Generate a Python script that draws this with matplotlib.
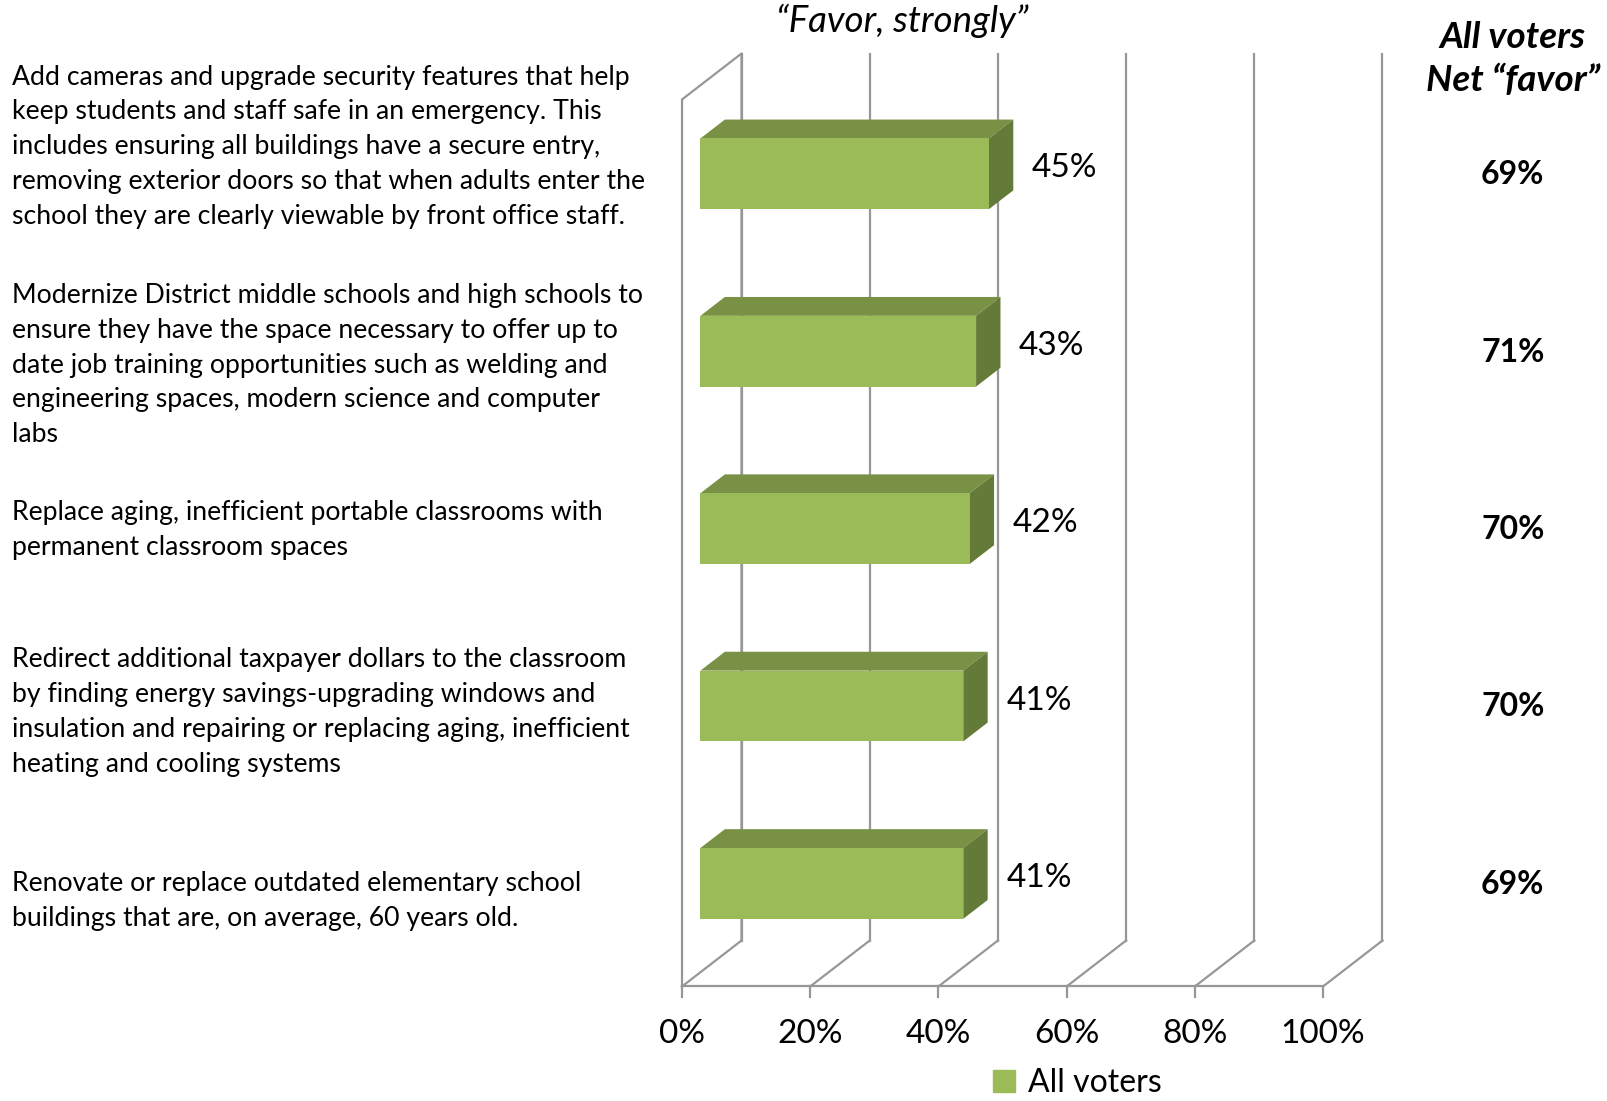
import matplotlib
matplotlib.use("Agg")
import matplotlib.pyplot as plt
from matplotlib.patches import Polygon, Patch

plt.rcParams['font.family'] = ['Lato', 'DejaVu Sans']

# data
items = [
    "Add cameras and upgrade security features that help\nkeep students and staff safe in an emergency. This\nincludes ensuring all buildings have a secure entry,\nremoving exterior doors so that when adults enter the\nschool they are clearly viewable by front office staff.",
    "Modernize District middle schools and high schools to\nensure they have the space necessary to offer up to\ndate job training opportunities such as welding and\nengineering spaces, modern science and computer\nlabs",
    "Replace aging, inefficient portable classrooms with\npermanent classroom spaces",
    "Redirect additional taxpayer dollars to the classroom\nby finding energy savings-upgrading windows and\ninsulation and repairing or replacing aging, inefficient\nheating and cooling systems",
    "Renovate or replace outdated elementary school\nbuildings that are, on average, 60 years old.",
]
strongly = [45, 43, 42, 41, 41]
net_favor = [69, 71, 70, 70, 69]
ticks = [0, 20, 40, 60, 80, 100]

# label nudges (row units), as in the original layout
label_dy = [-0.153, 0.078, 0.008, 0.034, 0.099]

# pseudo-3D geometry (x in percent, y in rows)
DX, DY = 9.28, -0.259        # depth offset of back wall
FLOOR, TOP = 4.581, -0.419   # front plane floor / top
T0, T1 = 0.31, 0.72          # bar front / back depth
BAR_H = 0.399

front_c = '#9BBB59'
top_c = '#789144'
side_c = '#647A38'
grid_c = '#979797'

fig = plt.figure(figsize=(16.08, 11.01), dpi=100)
ax = fig.add_axes([0, 0, 1, 1])
ax.set_xlim(-106.4, 144.46)
ax.set_ylim(5.2266, -0.9797)
ax.axis('off')

# walls and floor
lw = 1.6
ax.plot([0, 0, DX, DX], [FLOOR, TOP, TOP + DY, FLOOR + DY], color=grid_c, lw=lw)
ax.plot([0, 100], [FLOOR, FLOOR], color=grid_c, lw=lw)
for p in ticks:
    ax.plot([p + DX, p + DX], [FLOOR + DY, TOP + DY], color=grid_c, lw=lw)
    ax.plot([p, p + DX], [FLOOR, FLOOR + DY], color=grid_c, lw=lw)
    ax.plot([p, p], [FLOOR, FLOOR + 0.06], color=grid_c, lw=lw)
    ax.text(p, 4.849, f"{p}%", ha='center', va='center', fontsize=24)

# bars
dt = T1 - T0
for i, v in enumerate(strongly):
    x0 = T0 * DX
    x1 = v + T0 * DX
    yt, yb = i - BAR_H / 2, i + BAR_H / 2
    ox, oy = dt * DX, dt * DY
    ax.add_patch(Polygon([(x0, yt), (x1, yt), (x1 + ox, yt + oy), (x0 + ox, yt + oy)],
                         closed=True, fc=top_c, ec='none', zorder=3))
    ax.add_patch(Polygon([(x1, yt), (x1 + ox, yt + oy), (x1 + ox, yb + oy), (x1, yb)],
                         closed=True, fc=side_c, ec='none', zorder=3))
    ax.add_patch(Polygon([(x0, yt), (x1, yt), (x1, yb), (x0, yb)],
                         closed=True, fc=front_c, ec='none', zorder=3))
    ax.text(v + T1 * DX + 2.9, i - 0.03, f"{v}%", ha='left', va='center', fontsize=24)
    ax.text(129.6, i + 0.005, f"{net_favor[i]}%", ha='center', va='center',
            fontsize=23, fontweight='bold')
    ax.text(-104.5, i + label_dy[i], items[i], ha='left', va='center',
            fontsize=19.2, linespacing=1.49)

ax.text(129.6, -0.647, "All voters\nNet \u201cfavor\u201d", ha='center', va='center',
        fontsize=26.5, fontweight='bold', fontstyle='italic', linespacing=1.4)
ax.text(34.3, -0.864, "\u201cFavor, strongly\u201d", ha='center', va='center',
        fontsize=26.5, fontstyle='italic')

fig.legend(handles=[Patch(color=front_c, label='All voters')], loc='center',
           bbox_to_anchor=(0.67, 0.016), frameon=False, fontsize=23,
           handlelength=0.7, handleheight=0.7, handletextpad=0.4)

fig.savefig('out.png', dpi=100)
